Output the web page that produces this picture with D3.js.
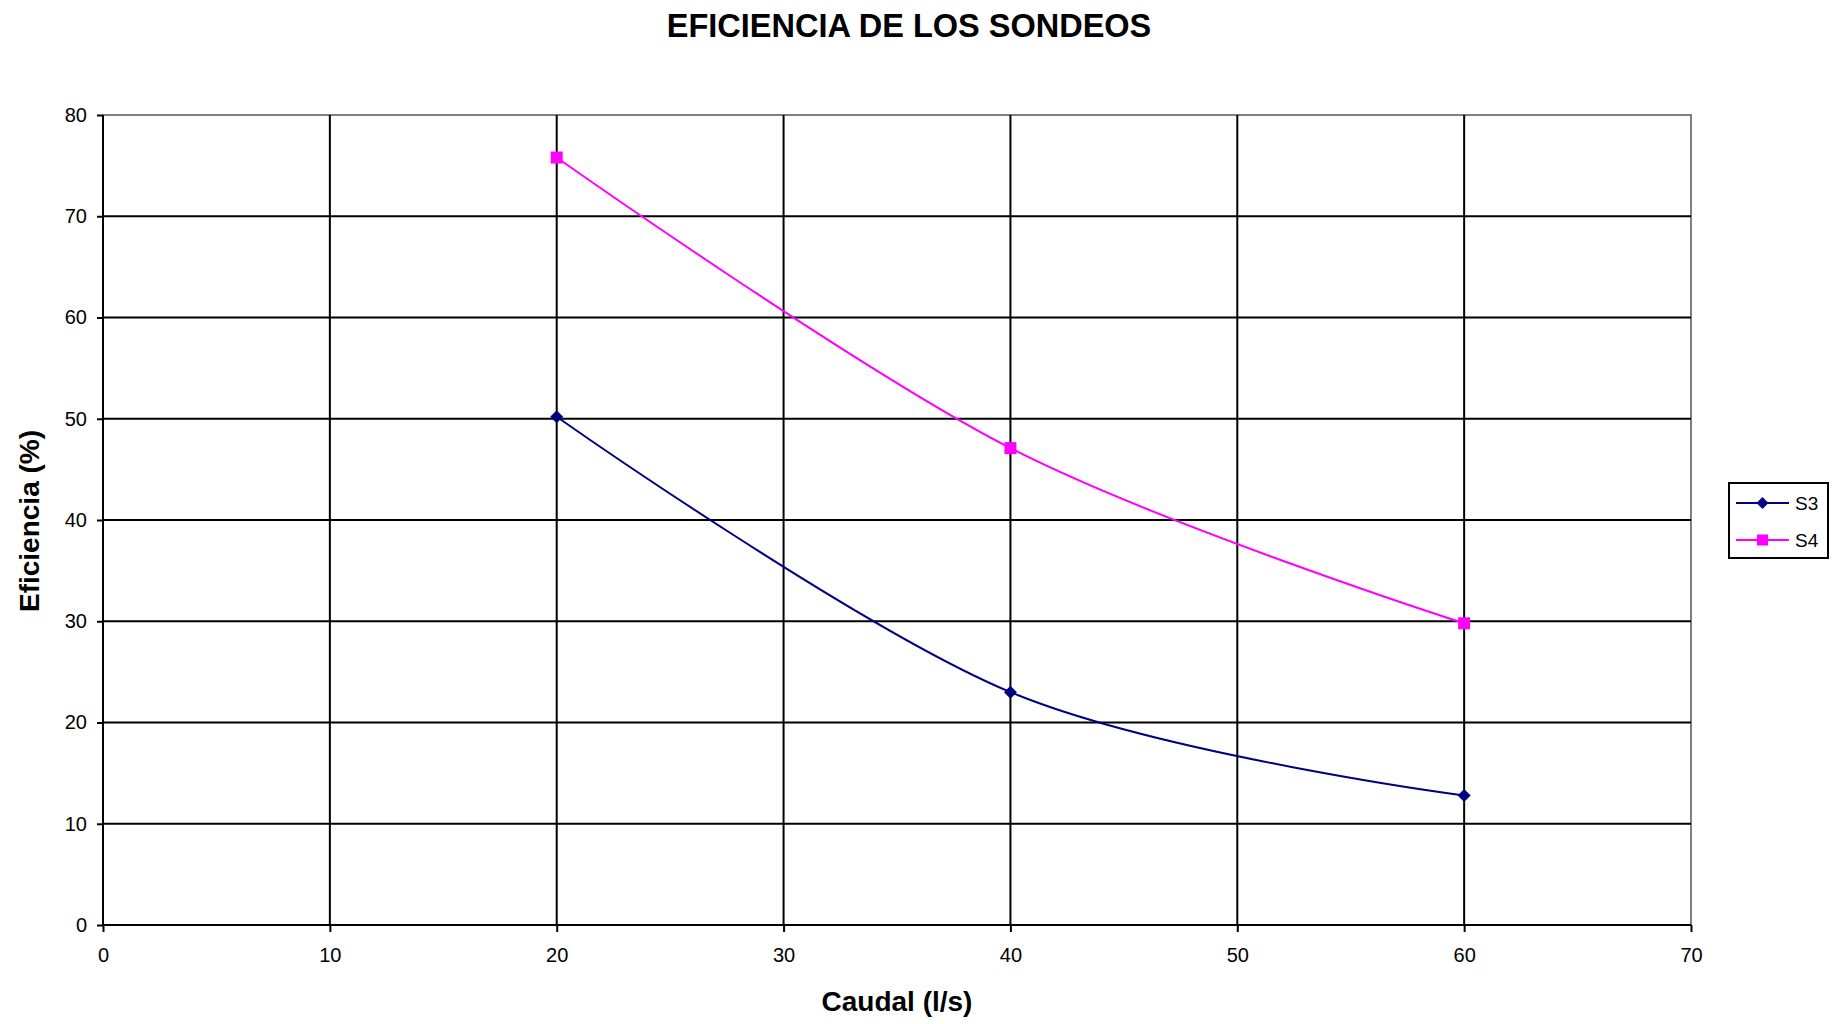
<!DOCTYPE html>
<html>
<head>
<meta charset="utf-8">
<script src="https://cdn.jsdelivr.net/npm/d3@7"></script>
<style>
  html, body { margin: 0; padding: 0; background: #fff; }
  svg { display: block; font-family: "Liberation Sans", Arial, sans-serif; }
</style>
</head>
<body>
<svg id="chart" width="1834" height="1024"></svg>
<script>
// Caudal (l/s) and efficiency (%) per well
const caudal = [20, 40, 60];
const s3Values = [50.2, 23.0, 12.8];
const s4Values = [75.8, 47.1, 29.8];
const seriesNames = ["S3", "S4"];
const xTicks = [0, 10, 20, 30, 40, 50, 60, 70];
const yTicks = [0, 10, 20, 30, 40, 50, 60, 70, 80];

const series = [
  { name: seriesNames[0], values: s3Values, color: "#000080", marker: "diamond" },
  { name: seriesNames[1], values: s4Values, color: "#FF00FF", marker: "square" }
];

const svg = d3.select("#chart");
const plot = { left: 103, right: 1691, top: 115, bottom: 925 };

const x = d3.scaleLinear().domain([0, 70]).range([plot.left, plot.right]);
const y = d3.scaleLinear().domain([0, 80]).range([plot.bottom, plot.top]);

// Plot area border (grey)
svg.append("rect")
  .attr("x", plot.left).attr("y", plot.top)
  .attr("width", plot.right - plot.left).attr("height", plot.bottom - plot.top)
  .attr("fill", "none").attr("stroke", "#808080").attr("stroke-width", 2);

// Gridlines
const grid = svg.append("g");
grid.selectAll("line.h").data(yTicks.filter(d => d > 0 && d < 80)).join("line")
  .attr("x1", plot.left).attr("x2", plot.right)
  .attr("y1", d => y(d)).attr("y2", d => y(d))
  .attr("stroke", "#000").attr("stroke-width", 2);
grid.selectAll("line.v").data(xTicks.filter(d => d > 0 && d < 70)).join("line")
  .attr("y1", plot.top).attr("y2", plot.bottom)
  .attr("x1", d => x(d)).attr("x2", d => x(d))
  .attr("stroke", "#000").attr("stroke-width", 2);

// Axes
const xAxis = d3.axisBottom(x).tickValues(xTicks).tickSize(7).tickPadding(16).tickFormat(d3.format("d"));
const yAxis = d3.axisLeft(y).tickValues(yTicks).tickSize(6).tickPadding(10).tickFormat(d3.format("d"));

const gx = svg.append("g").attr("transform", `translate(0,${plot.bottom})`).call(xAxis);
const gy = svg.append("g").attr("transform", `translate(${plot.left},0)`).call(yAxis);
[gx, gy].forEach(g => {
  g.select(".domain").remove();
  g.selectAll(".tick line").attr("stroke", "#000").attr("stroke-width", 2);
  g.selectAll(".tick text").attr("fill", "#000").style("font-size", "20px")
    .style("font-family", "'Liberation Sans', Arial, sans-serif");
});
svg.append("line").attr("x1", plot.left).attr("x2", plot.right)
  .attr("y1", plot.bottom).attr("y2", plot.bottom).attr("stroke", "#000").attr("stroke-width", 2);
svg.append("line").attr("x1", plot.left).attr("x2", plot.left)
  .attr("y1", plot.top).attr("y2", plot.bottom).attr("stroke", "#000").attr("stroke-width", 2);

// Smoothed series lines
const line = d3.line()
  .x(d => x(d[0])).y(d => y(d[1]))
  .curve(d3.curveCatmullRom.alpha(0));

const diamond = s => `M0,${-s}L${s},0L0,${s}L${-s},0Z`;
const square = s => `M${-s},${-s}H${s}V${s}H${-s}Z`;
const markerPath = (m, s) => m === "diamond" ? diamond(s) : square(s);

series.forEach(sr => {
  const pts = caudal.map((c, i) => [c, sr.values[i]]);
  svg.append("path").datum(pts)
    .attr("d", line).attr("fill", "none")
    .attr("stroke", sr.color).attr("stroke-width", 2);
  svg.append("g").selectAll("path").data(pts).join("path")
    .attr("transform", d => `translate(${x(d[0])},${y(d[1])})`)
    .attr("d", markerPath(sr.marker, sr.marker === "diamond" ? 6.5 : 6))
    .attr("fill", sr.color);
});

// Title and axis titles
svg.append("text").attr("x", 909).attr("y", 37).attr("text-anchor", "middle")
  .style("font-size", "32.5px").style("font-weight", "bold").text("EFICIENCIA DE LOS SONDEOS");
svg.append("text").attr("x", 897).attr("y", 1011).attr("text-anchor", "middle")
  .style("font-size", "28px").style("font-weight", "bold").text("Caudal (l/s)");
svg.append("text").attr("transform", "translate(39,521) rotate(-90)").attr("text-anchor", "middle")
  .style("font-size", "28px").style("font-weight", "bold").text("Eficiencia (%)");

// Legend
const legend = svg.append("g");
legend.append("rect").attr("x", 1729).attr("y", 483).attr("width", 99).attr("height", 75)
  .attr("fill", "#fff").attr("stroke", "#000").attr("stroke-width", 2);
series.forEach((sr, i) => {
  const ly = 503 + i * 37;
  legend.append("line").attr("x1", 1736).attr("x2", 1789).attr("y1", ly).attr("y2", ly)
    .attr("stroke", sr.color).attr("stroke-width", 2);
  legend.append("path").attr("transform", `translate(1762.5,${ly})`)
    .attr("d", markerPath(sr.marker, sr.marker === "diamond" ? 6 : 5.5)).attr("fill", sr.color);
  legend.append("text").attr("x", 1795).attr("y", ly + 7)
    .style("font-size", "19px").text(sr.name);
});
</script>
</body>
</html>
